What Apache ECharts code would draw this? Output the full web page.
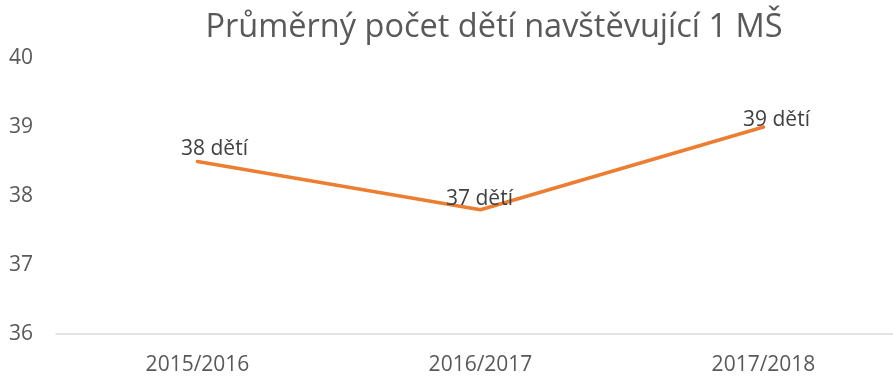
<!DOCTYPE html>
<html>
<head>
<meta charset="utf-8">
<script src="https://cdn.jsdelivr.net/npm/echarts@6/dist/echarts.min.js"></script>
<style>
  html, body { margin: 0; padding: 0; background: #fff; }
  #chart { width: 893px; height: 381px; }
</style>
</head>
<body>
<div id="chart"></div>
<script>
// School years and average number of children per kindergarten
const years = ['2015/2016', '2016/2017', '2017/2018'];
const avgChildren = [38.5, 37.8, 39.0];
const yTicks = [36, 37, 38, 39, 40];
const unitLabel = 'dětí';

// Per-point label nudges so captions sit where they read best
const labelOffsets = [[17, -12], [-1, -11], [13, -7]];

const chart = echarts.init(document.getElementById('chart'), null, { renderer: 'canvas' });
const font = '"Open Sans", "Noto Sans", sans-serif';

chart.setOption({
  animation: false,
  title: {
    text: 'Průměrný počet dětí navštěvující 1 MŠ',
    left: 489,
    textAlign: 'center',
    top: 6,
    textStyle: { fontFamily: font, fontSize: 32.5, fontWeight: 'normal', color: '#595959' }
  },
  grid: { left: 56, top: 58, width: 849, height: 276, outerBoundsMode: 'none' },
  xAxis: {
    type: 'category',
    data: years,
    boundaryGap: true,
    axisLine: { lineStyle: { color: '#d9d9d9', width: 1.5 } },
    axisTick: { show: false },
    axisLabel: { fontFamily: font, fontSize: 21, color: '#595959', margin: 21 }
  },
  yAxis: {
    type: 'value',
    min: yTicks[0],
    max: yTicks[yTicks.length - 1],
    interval: 1,
    axisLine: { show: false },
    axisTick: { show: false },
    splitLine: { show: false },
    axisLabel: { fontFamily: font, fontSize: 21, color: '#595959', margin: 35, align: 'center' }
  },
  series: [{
    type: 'line',
    data: avgChildren.map((v, i) => ({
      value: v,
      label: { offset: labelOffsets[i] }
    })),
    symbol: 'circle',
    symbolSize: 1,
    showSymbol: true,
    lineStyle: { color: '#ED7D31', width: 3.5, cap: 'round', join: 'round' },
    itemStyle: { color: 'rgba(0,0,0,0)' },
    label: {
      show: true,
      position: 'inside',
      fontFamily: font,
      fontSize: 21,
      color: '#404040',
      formatter: p => Math.floor(p.value) + ' ' + unitLabel
    }
  }]
});
</script>
</body>
</html>
